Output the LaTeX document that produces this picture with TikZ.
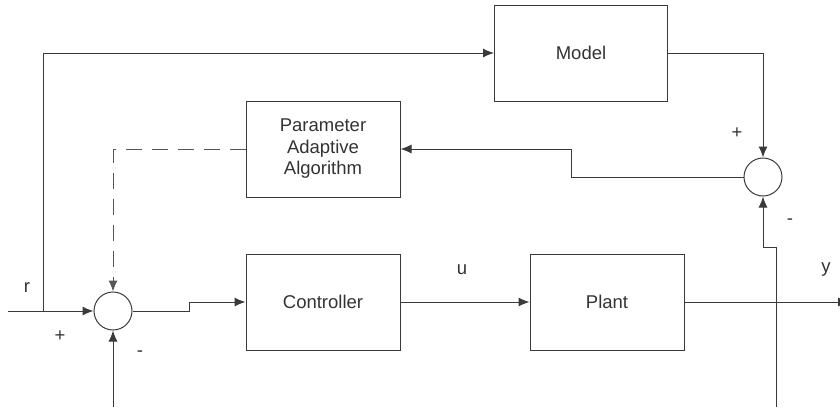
\documentclass[tikz,border=0pt]{standalone}
\usepackage{fontspec}
\setmainfont{Liberation Sans}
\usetikzlibrary{arrows.meta, positioning}
\definecolor{linegray}{HTML}{3A3A3A}
\definecolor{dashgray}{HTML}{555555}
\definecolor{textgray}{HTML}{333333}
\tikzstyle{block} = [draw=linegray,line width=1pt,rectangle,minimum width=154pt,minimum height=96pt,text=textgray,align=center,font=\fontsize{18.5}{21.5}\selectfont]
\tikzstyle{sum} = [draw=linegray,line width=1pt,circle,minimum size=38pt,inner sep=0pt]
\tikzstyle{arrow} = [line width=1pt,-{Latex[length=11pt,width=9pt]},draw=linegray]
\tikzstyle{lbl} = [text=textgray,font=\fontsize{18.5}{21}\selectfont]

\begin{document}
\begin{tikzpicture}[x=1pt,y=-1pt,node distance=284pt]
        \useasboundingbox (0,0) rectangle (840,407);
        \node (ctrl) [block] at (323,302) {Controller};
        \node (plant) [block] [right of=ctrl] {Plant};
        \node (paa) [block] at (323,149) {Parameter\\Adaptive\\Algorithm};
        \node (model) [block, minimum width=173pt] at (581,53) {Model};
        \node (sum1) [sum] at (113,311) {};
        \node (sum2) [sum] at (763,177) {};

        \coordinate (rin) at (8,311);
        \coordinate (rsplit) at (43,311);
        \coordinate (yout) at (849,302);
        \coordinate (fbin) at (776,407);
        \coordinate (dist) at (113,407);

        \draw[arrow] (rin) -- (sum1);
        \draw[arrow] (rsplit) |- (model.west);
        \draw[arrow] (sum1.east) -- ++(57,0) |- (ctrl.west);
        \draw[arrow] (ctrl) -- (plant);
        \draw[arrow] (plant) -- (yout);
        \draw[arrow] (model.east) -| (sum2.north);
        \draw[arrow] (fbin) -- ++(0,-160) -| (sum2.south);
        \draw[arrow] (sum2.west) -- ++(-172,0) |- (paa.east);
        \draw[arrow] (dist) -- (sum1.south);
        \draw[arrow,draw=dashgray,dash pattern=on 16pt off 10pt] (paa.west) -| (sum1.north);
        %\draw[arrow] (paa.west) -| (sum1.north);

        \node (rlbl) [lbl] at (27,288) {r};
        \node (plus1) [lbl] at (60,336) {+};
        \node (minus1) [lbl] at (140,354) {-};
        \node (ulbl) [lbl] at (462,270) {u};
        \node (ylbl) [lbl] at (826,270) {y};
        \node (plus2) [lbl] at (737,133) {+};
        \node (minus2) [lbl] at (790,222) {-};
    \end{tikzpicture}
\end{document}
